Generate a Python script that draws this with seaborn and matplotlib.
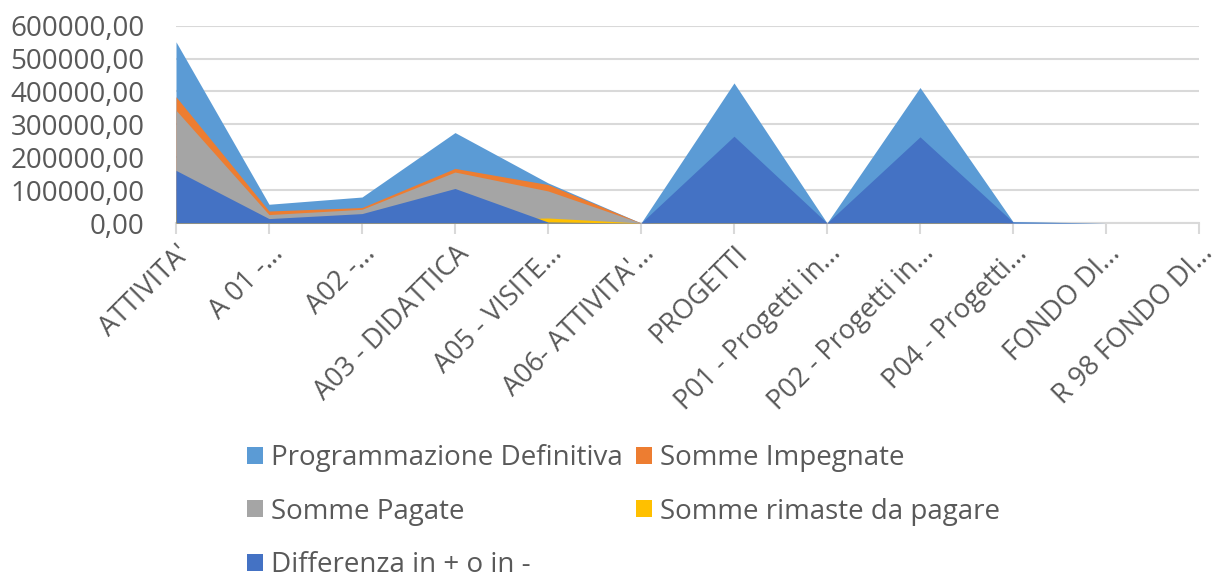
import matplotlib
matplotlib.use("Agg")
import matplotlib.pyplot as plt
from matplotlib.patches import Patch
from matplotlib.ticker import FuncFormatter, MultipleLocator
import seaborn as sns
import pandas as pd
import numpy as np

categories = ["ATTIVITA'", "A 01 -...", "A02 -...", "A03 - DIDATTICA", "A05 - VISITE...",
              "A06- ATTIVITA'...", "PROGETTI", "P01 - Progetti in...", "P02 - Progetti in...",
              "P04 - Progetti...", "FONDO DI...", "R 98 FONDO DI..."]
programmazione = [551000, 57000, 79000, 275000, 122000, 0, 426000, 0, 412000, 4000, 0, 0]
impegnate      = [384000, 36500, 47000, 166000, 117000, 0, 162000, 0, 150000, 0, 0, 0]
pagate         = [343000, 25600, 41700, 155000, 97500, 0, 150000, 0, 140000, 0, 0, 0]
rimaste        = [41000, 10900, 5300, 11000, 15200, 0, 12000, 0, 10000, 0, 0, 0]
differenza     = [160000, 13400, 28600, 105000, 3000, 0, 264000, 0, 262000, 3000, 0, 0]

series_names = ["Programmazione Definitiva", "Somme Impegnate", "Somme Pagate",
                "Somme rimaste da pagare", "Differenza in + o in -"]
colors = ["#5B9BD5", "#ED7D31", "#A5A5A5", "#FFC000", "#4472C4"]

df = pd.DataFrame({"cat": categories,
                   series_names[0]: programmazione,
                   series_names[1]: impegnate,
                   series_names[2]: pagate,
                   series_names[3]: rimaste,
                   series_names[4]: differenza})
df["x"] = np.arange(len(categories))

sns.set_theme(style="white")
plt.rcParams["font.family"] = ["Open Sans", "DejaVu Sans"]

fig = plt.figure(figsize=(12.23, 5.77), dpi=100)
ax = fig.add_axes([176 / 1223, 1 - 223 / 577, (1199 - 176) / 1223, (223 - 25.7) / 577])

for name, col in zip(series_names, colors):
    ax.fill_between(df["x"], 0, df[name], color=col, linewidth=0, zorder=2)

ax.set_xlim(0, len(categories) - 1)
ax.set_ylim(0, 600000)
ax.yaxis.set_major_locator(MultipleLocator(100000))
ax.yaxis.set_major_formatter(FuncFormatter(lambda v, p: f"{int(v)},00"))
ax.grid(axis="y", color="#D9D9D9", linewidth=1.5, zorder=0)
ax.grid(axis="x", visible=False)
ax.set_axisbelow(True)
for s in ["left", "right", "top"]:
    ax.spines[s].set_visible(False)
ax.spines["bottom"].set_color("#D9D9D9")
ax.spines["bottom"].set_linewidth(1.5)
ax.spines["bottom"].set_zorder(1)

ax.set_xticks(df["x"])
ax.set_xticklabels(categories, rotation=45, ha="right", va="top", rotation_mode="anchor",
                   fontsize=19.5, color="#595959")
ax.tick_params(axis="x", which="major", bottom=True, length=8, width=1.5,
               color="#D9D9D9", pad=4)
ax.tick_params(axis="y", left=False, length=0, labelsize=20, labelcolor="#595959", pad=22.5)
ax.set_xlabel("")
ax.set_ylabel("")

# legend filled row by row (Excel order)
order = [0, 2, 4, 1, 3]
handles = [Patch(facecolor=colors[i], edgecolor="none") for i in order]
labels = [series_names[i] for i in order]
leg = fig.legend(handles, labels, loc="upper left",
                 bbox_to_anchor=(247 / 1223, 1 - 444 / 577), ncol=2, frameon=False,
                 fontsize=20, handlelength=0.58, handleheight=0.58, handletextpad=0.3,
                 columnspacing=0.45, labelspacing=0.92, borderpad=0, borderaxespad=0,
                 labelcolor="#595959")

fig.savefig("out.png", dpi=100)
